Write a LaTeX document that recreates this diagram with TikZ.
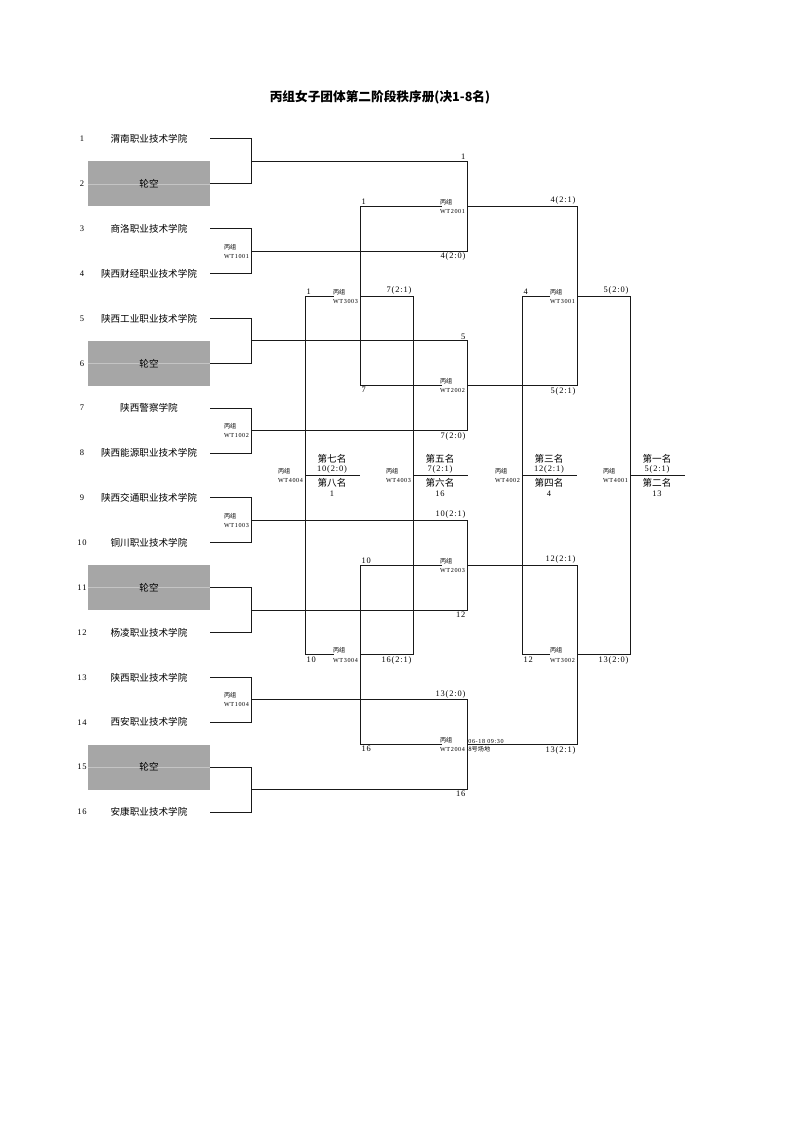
\documentclass[tikz,border=0pt]{standalone}
\usepackage{fontspec}
\setmainfont{Liberation Serif}
\newfontfamily\cjk{Noto Sans CJK SC}
\newfontfamily\nf[LetterSpace=10]{Liberation Serif}
\definecolor{byegray}{HTML}{A6A6A6}
\definecolor{byeline}{HTML}{C4C4C4}
\newcommand\wtl[1]{{\cjk 丙组}\\{\nf #1}}
\begin{document}
\begin{tikzpicture}[x=0.75pt,y=-0.75pt,
  ln/.style={line width=0.75pt,draw=black!90,line cap=rect},
  teamtext/.style={font=\cjk\fontsize{7.2}{8.6}\selectfont,inner sep=0pt},
  rownum/.style={font=\nf\fontsize{6.4}{7.5}\selectfont,inner sep=0pt},
  byebox/.style={fill=byegray,minimum width=91.5pt,minimum height=33.6pt,inner sep=0pt},
  lab/.style={font=\nf\fontsize{6.3}{7.5}\selectfont,inner sep=1pt},
  wtlab/.style={font=\fontsize{4.6}{6.8}\selectfont,align=left,inner sep=0.6pt,anchor=east},
  plc/.style={font=\cjk\fontsize{7.2}{8.6}\selectfont,inner sep=0pt},
  plcnum/.style={font=\nf\fontsize{6.3}{7.5}\selectfont,inner sep=0pt},
]
\useasboundingbox (0,0) rectangle (794,1123);

% title
\node[font=\cjk\bfseries\fontsize{9.5}{11}\selectfont] (title) at (380,97) {丙组女子团体第二阶段秩序册(决1-8名)};

% bye boxes
\foreach \i/\yy in {2/183.87,6/363.33,11/587.67,15/767.13}{
  \node[byebox] (b\i) at (149,\yy) {};
  \draw[byeline,line width=0.4pt] (b\i.west) -- (b\i.east);
}

% rows
\foreach \i/\yy/\name in {1/139/渭南职业技术学院,2/183.87/轮空,3/228.73/商洛职业技术学院,4/273.6/陕西财经职业技术学院,
  5/318.47/陕西工业职业技术学院,6/363.33/轮空,7/408.2/陕西警察学院,8/453.07/陕西能源职业技术学院,
  9/497.93/陕西交通职业技术学院,10/542.8/铜川职业技术学院,11/587.67/轮空,12/632.53/杨凌职业技术学院,
  13/677.4/陕西职业技术学院,14/722.27/西安职业技术学院,15/767.13/轮空,16/812/安康职业技术学院}{
  \node[rownum] (n\i) at (82,\yy) {\i};
  \node[teamtext] (t\i) at (149,\yy) {\name};
  \coordinate (e\i) at (210,\yy);
}

% round 1
\foreach \k/\a/\b/\pp in {1/1/2/161.43,2/3/4/251.17,3/5/6/340.9,4/7/8/430.63,5/9/10/520.37,6/11/12/610.1,7/13/14/699.83,8/15/16/789.57}{
  \draw[ln] (e\a) -- ++(41,0) |- (e\b);
  \coordinate (P\k) at (251,\pp);
  \coordinate (R\k) at (467,\pp);
  \draw[ln] (P\k) -- (R\k);
}
\node[wtlab] (w1001) at (250,251.17) {\wtl{WT1001}};
\node[wtlab] (w1002) at (250,430.63) {\wtl{WT1002}};
\node[wtlab] (w1003) at (250,520.37) {\wtl{WT1003}};
\node[wtlab] (w1004) at (250,699.83) {\wtl{WT1004}};

\node[lab,anchor=south east] at (R1) {1};
\node[lab,anchor=north east] at (R2) {4(2:0)};
\node[lab,anchor=south east] at (R3) {5};
\node[lab,anchor=north east] at (R4) {7(2:0)};
\node[lab,anchor=south east] at (R5) {10(2:1)};
\node[lab,anchor=north east] at (R6) {12};
\node[lab,anchor=south east] at (R7) {13(2:0)};
\node[lab,anchor=north east] at (R8) {16};

% round 2
\foreach \m/\a/\b/\qq in {1/1/2/206.3,2/3/4/385.77,3/5/6/565.23,4/7/8/744.7}{
  \draw[ln] (R\a) -- (R\b);
  \coordinate (J\m) at (467,\qq);
  \coordinate (W\m) at (577,\qq);
  \coordinate (Ls\m) at (441,\qq);
  \coordinate (L\m) at (360,\qq);
  \draw[ln] (J\m) -- (W\m);
  \draw[ln] (Ls\m) -- (L\m);
}
\node[wtlab] (w2001) at (466,206.3) {\wtl{WT2001}};
\node[wtlab] (w2002) at (466,385.77) {\wtl{WT2002}};
\node[wtlab] (w2003) at (466,565.23) {\wtl{WT2003}};
\node[wtlab] (w2004) at (466,744.7) {\wtl{WT2004}};
\node[font=\nf\fontsize{4.6}{6}\selectfont,inner sep=0.8pt,anchor=south west] (time) at (J4) {06-18 09:30};
\node[font=\cjk\fontsize{4.6}{6}\selectfont,inner sep=0.8pt,anchor=north west] (court) at (J4) {8号场地};

\node[lab,anchor=south east] at (W1) {4(2:1)};
\node[lab,anchor=north east] at (W2) {5(2:1)};
\node[lab,anchor=south east] at (W3) {12(2:1)};
\node[lab,anchor=north east] at (W4) {13(2:1)};
\node[lab,anchor=south west] at (L1) {1};
\node[lab,anchor=north west] at (L2) {7};
\node[lab,anchor=south west] at (L3) {10};
\node[lab,anchor=north west] at (L4) {16};

% round 3
\draw[ln] (W1) -- (W2);
\draw[ln] (W3) -- (W4);
\draw[ln] (L1) -- (L2);
\draw[ln] (L3) -- (L4);
\coordinate (K1) at (577,296.03);
\coordinate (K2) at (577,654.97);
\coordinate (M1) at (360,296.03);
\coordinate (M2) at (360,654.97);
\coordinate (KW1) at (630,296.03);
\coordinate (KW2) at (630,654.97);
\coordinate (KLs1) at (549,296.03);
\coordinate (KLs2) at (549,654.97);
\coordinate (KL1) at (522,296.03);
\coordinate (KL2) at (522,654.97);
\coordinate (MW1) at (413,296.03);
\coordinate (MW2) at (413,654.97);
\coordinate (MLs1) at (333,296.03);
\coordinate (MLs2) at (333,654.97);
\coordinate (ML1) at (305,296.03);
\coordinate (ML2) at (305,654.97);
\foreach \j in {1,2}{
  \draw[ln] (K\j) -- (KW\j);
  \draw[ln] (KLs\j) -- (KL\j);
  \draw[ln] (M\j) -- (MW\j);
  \draw[ln] (MLs\j) -- (ML\j);
}
\node[wtlab] (w3001) at (576,296.03) {\wtl{WT3001}};
\node[wtlab] (w3002) at (576,654.97) {\wtl{WT3002}};
\node[wtlab] (w3003) at (359,296.03) {\wtl{WT3003}};
\node[wtlab] (w3004) at (359,654.97) {\wtl{WT3004}};

\node[lab,anchor=south east] at (KW1) {5(2:0)};
\node[lab,anchor=north east] at (KW2) {13(2:0)};
\node[lab,anchor=south west] at (KL1) {4};
\node[lab,anchor=north west] at (KL2) {12};
\node[lab,anchor=south east] at (MW1) {7(2:1)};
\node[lab,anchor=north east] at (MW2) {16(2:1)};
\node[lab,anchor=south west] at (ML1) {1};
\node[lab,anchor=north west] at (ML2) {10};

% round 4 (finals)
\draw[ln] (KW1) -- (KW2);
\draw[ln] (KL1) -- (KL2);
\draw[ln] (MW1) -- (MW2);
\draw[ln] (ML1) -- (ML2);
\foreach \v/\code/\hi/\sc/\lo/\ln in {305/WT4004/第七名/10(2:0)/第八名/1,413/WT4003/第五名/7(2:1)/第六名/16,522/WT4002/第三名/12(2:1)/第四名/4,630/WT4001/第一名/5(2:1)/第二名/13}{
  \coordinate (F\v) at (\v,475.5);
  \coordinate (G\v) at (\v+54,475.5);
  \draw[ln] (F\v) -- (G\v);
  \node[wtlab] (w\code) at (\v-1,475.5) {\wtl{\code}};
  \node[plc] (hi\v) at (\v+27,458.5) {\hi};
  \node[plcnum] (sc\v) at (\v+27,469.5) {\sc};
  \node[plc] (lo\v) at (\v+27,483) {\lo};
  \node[plcnum] (ln\v) at (\v+27,493.5) {\ln};
}
\end{tikzpicture}
\end{document}
